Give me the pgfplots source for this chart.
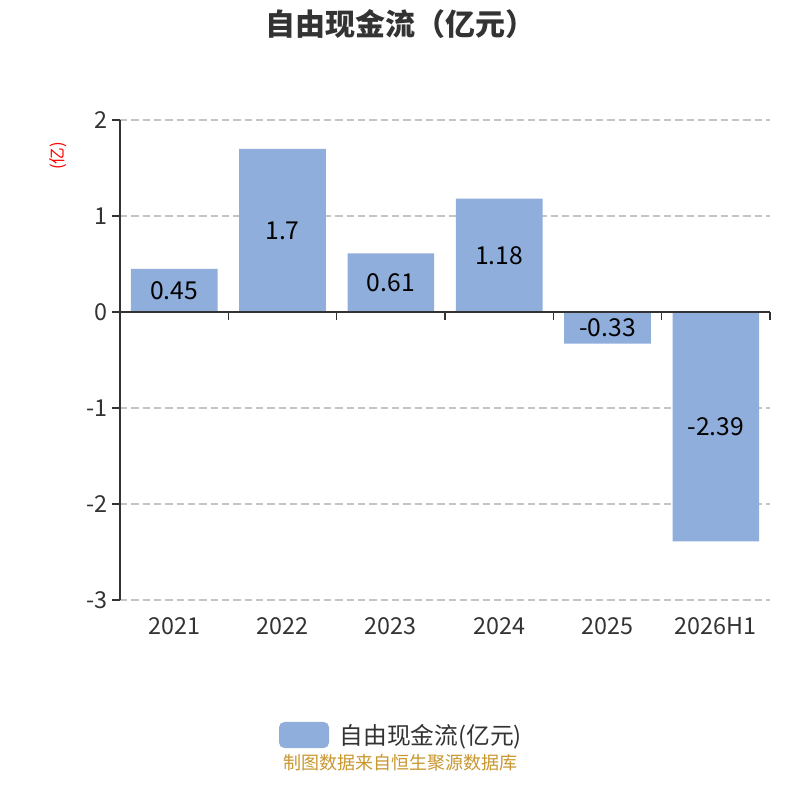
\documentclass[border=0pt]{standalone}
\usepackage{pgfplots}
\pgfplotsset{compat=1.18}
\usepackage{fontspec}
\setmainfont{Noto Sans CJK SC}
\definecolor{barc}{RGB}{143,174,219}
\definecolor{axc}{RGB}{51,51,51}
\definecolor{gridc}{RGB}{196,196,196}
\definecolor{srcc}{RGB}{200,150,46}
\begin{document}
\begin{tikzpicture}
\path[use as bounding box] (0,0) rectangle (600pt,600pt);
\begin{axis}[
  at={(90pt,150pt)}, anchor=south west,
  scale only axis, width=487.5pt, height=360pt,
  xmin=-0.5, xmax=5.5, ymin=-3, ymax=2,
  axis lines*=left,
  x axis line style={draw=none},
  y axis line style={color=axc, line width=1pt},
  xtick={0,1,2,3,4,5},
  xticklabels={2021,2022,2023,2024,2025,2026H1},
  major x tick style={draw=none},
  xticklabel style={yshift=-3.5pt},
  ytick={-3,-2,-1,0,1,2},
  yticklabels={-3,-2,-1,0,1,2},
  tick align=outside,
  major tick length=6pt,
  major y tick style={color=axc, line width=1pt},
  ymajorgrids,
  grid style={color=gridc, line width=0.8pt, dash pattern=on 5.5pt off 3pt},
  tick label style={font=\fontsize{17.5}{19}\selectfont, color=axc},
  /pgf/number format/assume math mode=true,
  legend style={at={(0.4335,-0.28125)}, anchor=center, draw=none, fill=none,
    font=\fontsize{17.8}{19}\selectfont, text=axc,
    legend cell align=left},
  legend image code/.code={\fill[barc, rounded corners=4pt] (0pt,-9.75pt) rectangle (37.5pt,9.75pt);},
  clip=false,
]
\addplot[ybar, bar width=0.8, fill=barc, draw=none] coordinates {
  (0,0.45) (1,1.7) (2,0.61) (3,1.18) (4,-0.33) (5,-2.39)
};
\addlegendentry{\hspace{6pt}自由现金流(亿元)}
\addplot[only marks, mark=none, point meta=explicit symbolic,
  nodes near coords, forget plot,
  every node near coord/.append style={anchor=center, font=\fontsize{18.5}{20}\selectfont, text=black}]
  coordinates {
  (0,0.225)[0.45] (1,0.85)[1.7] (2,0.305)[0.61] (3,0.59)[1.18] (4,-0.165)[-0.33] (5,-1.195)[-2.39]
};
\draw[color=axc, line width=1pt] (axis cs:-0.5,0) -- (axis cs:5.5,0);
\draw[color=axc, line width=1pt] (axis cs:0.5,0) -- (axis cs:0.5,-0.0833);
\draw[color=axc, line width=1pt] (axis cs:1.5,0) -- (axis cs:1.5,-0.0833);
\draw[color=axc, line width=1pt] (axis cs:2.5,0) -- (axis cs:2.5,-0.0833);
\draw[color=axc, line width=1pt] (axis cs:3.5,0) -- (axis cs:3.5,-0.0833);
\draw[color=axc, line width=1pt] (axis cs:4.5,0) -- (axis cs:4.5,-0.0833);
\draw[color=axc, line width=1pt] (axis cs:5.5,0) -- (axis cs:5.5,-0.0833);
\end{axis}
\node[font=\fontsize{22.5}{24}\selectfont\bfseries, text=axc] at (300.5pt,582pt) {自由现金流（亿元）};
\node[font=\fontsize{13.5}{15}\selectfont, text=srcc] at (300pt,28pt) {制图数据来自恒生聚源数据库};
\node[font=\fontsize{12.5}{13}\selectfont, text=red, rotate=90] at (43.5pt,483pt) {(亿)};
\end{tikzpicture}
\end{document}
